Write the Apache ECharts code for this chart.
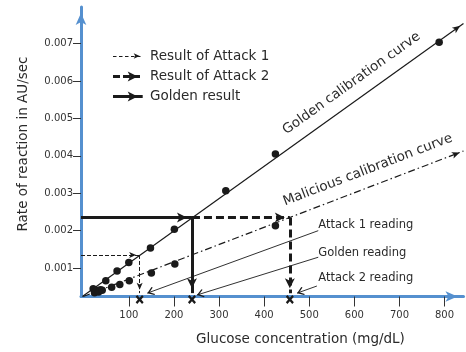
<!DOCTYPE html>
<html><head><meta charset="utf-8">
<script src="https://cdn.jsdelivr.net/npm/echarts@6/dist/echarts.min.js"></script>
<style>html,body{margin:0;padding:0;background:#fff}#c{width:466px;height:352px}</style>
</head><body><div id="c"></div>
<script>
// ---- data ----
const xTickValues = [100, 200, 300, 400, 500, 600, 700, 800];
const yTickValues = [0.001, 0.002, 0.003, 0.004, 0.005, 0.006, 0.007];
const goldenPoints = [[21, 0.00045], [28, 0.00041], [37, 0.00042], [49, 0.00066], [74, 0.00092], [100, 0.00115], [148, 0.00154], [201, 0.00204], [315, 0.00307], [425, 0.00405], [788, 0.00704]];
const maliciousPoints = [[24, 0.00034], [33, 0.00036], [41, 0.00041], [62, 0.00049], [80, 0.00056], [101, 0.00066], [150, 0.00087], [202, 0.00111], [425, 0.00213]];
const goldenCurve = [[-3, 0.00024], [842, 0.00754]];
const maliciousCurve = [[-1, 0.00024], [842, 0.00413]];
const goldenLevel = 0.00235;
const attack1Level = 0.00135;
const readingX = [124, 240, 457];            // Attack 1, Golden, Attack 2 readings (mg/dL)
const readingTipY = 0.00033;
const markerY = 0.00016;
const legendLabels = ['Result of Attack 1', 'Result of Attack 2', 'Golden result'];
const readingLabels = ['Attack 1 reading', 'Golden reading', 'Attack 2 reading'];
const readingLabelPos = [[520, 0.00214], [520, 0.00140], [520, 0.00073]];
const leaderFrom = [[520, 0.00200], [520, 0.00129], [517, 0.00052]];
const leaderTo = [[141, 0.00033], [251, 0.00028], [473, 0.00033]];
const curveLabels = ['Golden calibration curve', 'Malicious calibration curve'];
const curveLabelX = [615, 643];

// ---- styling ----
const FONT = 'DejaVu Sans';
const AXIS_BLUE = '#5590cf';
const INK = '#1a1a1a';
const TEXT = '#2a2a2a';

const chart = echarts.init(document.getElementById('c'), null, {renderer: 'canvas'});

function arrowSeries(name, segments, lineStyle, size, endSymbol) {
  return {
    type: 'line', name: name, data: [], silent: true, animation: false,
    markLine: {
      silent: true, animation: false,
      symbol: ['none', endSymbol || 'arrow'],
      symbolSize: size,
      symbolOffset: [0, [0, size[1] / 2]],
      label: {show: false},
      emphasis: {disabled: true},
      itemStyle: {color: INK, opacity: 1},
      lineStyle: Object.assign({color: INK, opacity: 1}, lineStyle),
      data: segments
    }
  };
}
function seg(a, b) { return [{coord: a}, {coord: b}]; }
function pseg(a, b) { return [{x: a[0], y: a[1]}, {x: b[0], y: b[1]}]; }

const chevron = 'path://M6,0 L12,8.6 L10.8,10 L6,3.4 L1.2,10 L0,8.6 Z';
const cross = 'path://M0,2 L2,0 L5,3 L8,0 L10,2 L7,5 L10,8 L8,10 L5,7 L2,10 L0,8 L3,5 Z';

const option = {
  animation: false,
  backgroundColor: '#fff',
  grid: {left: 81, right: 2.5, top: 7, bottom: 55.5},
  xAxis: {
    type: 'value', min: -6, max: 842,
    axisLine: {show: true, onZero: false, lineStyle: {color: AXIS_BLUE, width: 3},
      symbol: ['none', 'arrow'], symbolSize: [8, 12], symbolOffset: [0, -6]},
    axisTick: {show: true, customValues: xTickValues, length: 10, lineStyle: {color: '#333', width: 1}},
    axisLabel: {customValues: xTickValues, margin: 14, color: '#333', fontSize: 10, fontFamily: FONT},
    splitLine: {show: false}
  },
  yAxis: {
    type: 'value', min: 0.00024, max: 0.00798,
    axisLine: {show: true, onZero: false, lineStyle: {color: AXIS_BLUE, width: 3},
      symbol: ['none', 'arrow'], symbolSize: [8, 12], symbolOffset: [0, -6]},
    axisTick: {show: true, customValues: yTickValues, length: 8, lineStyle: {color: '#333', width: 1}},
    axisLabel: {customValues: yTickValues, margin: 8, color: '#333', fontSize: 10, fontFamily: FONT,
      formatter: v => v.toFixed(3)},
    splitLine: {show: false}
  },
  series: [
    arrowSeries('Golden calibration curve', [seg(goldenCurve[0], goldenCurve[1])], {width: 1.2, type: 'solid'}, [5, 8]),
    arrowSeries('Malicious calibration curve', [seg(maliciousCurve[0], maliciousCurve[1])], {width: 1.2, type: [7, 3, 1.5, 3]}, [5, 8]),
    arrowSeries('Golden result', [
      seg([-6, goldenLevel], [readingX[1], goldenLevel]),
      seg([readingX[1], goldenLevel], [readingX[1], readingTipY])
    ], {width: 3, type: 'solid'}, [7.5, 10]),
    arrowSeries('Result of Attack 2', [
      seg([readingX[1], goldenLevel], [readingX[2], goldenLevel]),
      seg([readingX[2], goldenLevel], [readingX[2], readingTipY])
    ], {width: 3, type: [8, 4]}, [7.5, 10]),
    arrowSeries('Result of Attack 1', [
      seg([-6, attack1Level], [readingX[0], attack1Level]),
      seg([readingX[0], attack1Level], [readingX[0], readingTipY])
    ], {width: 1, type: [4, 2]}, [4.5, 7]),
    arrowSeries('Readings', leaderFrom.map((p, i) => seg(p, leaderTo[i])), {width: 0.9, type: 'solid'}, [8.5, 7], chevron),
    // legend keys
    arrowSeries('key1', [pseg([113, 56], [142.7, 56])], {width: 1, type: [3.5, 2.5]}, [4, 6]),
    arrowSeries('key2', [pseg([113, 76.5], [142.7, 76.5])], {width: 3, type: [7, 3]}, [7.5, 10]),
    arrowSeries('key3', [pseg([113, 96.5], [142.7, 96.5])], {width: 3, type: 'solid'}, [7.5, 10]),
    {
      type: 'scatter', name: 'Golden points', data: goldenPoints, symbol: 'circle', symbolSize: 7.5,
      itemStyle: {color: INK, opacity: 1}, silent: true, z: 5
    },
    {
      type: 'scatter', name: 'Malicious points', data: maliciousPoints, symbol: 'circle', symbolSize: 7.5,
      itemStyle: {color: INK, opacity: 1}, silent: true, z: 5
    },
    {
      type: 'scatter', name: 'Readings marks', data: readingX.map(x => [x, markerY]), symbol: cross,
      symbolSize: [8, 9], itemStyle: {color: INK, opacity: 1}, clip: false, silent: true, z: 6
    }
  ]
};
chart.setOption(option);

// ---- text annotations, positioned through the axes ----
const px = p => chart.convertToPixel({gridIndex: 0}, p);
const graphics = [];
function txt(text, x, y, size, align, rot) {
  graphics.push({
    type: 'text', x: x, y: y, rotation: rot || 0, silent: true,
    style: {text: text, fill: TEXT, fontSize: size, fontFamily: FONT,
      textAlign: align, textVerticalAlign: 'middle', align: align, verticalAlign: 'middle'}
  });
}
legendLabels.forEach((t, i) => txt(t, 150, 56 + i * 20, 13.5, 'left'));
readingLabels.forEach((t, i) => {
  const p = px(readingLabelPos[i]);
  txt(t, p[0], p[1], 11.5, 'left');
});
[goldenCurve, maliciousCurve].forEach((c, i) => {
  const a = px(c[0]), b = px(c[1]);
  const ang = Math.atan2(a[1] - b[1], b[0] - a[0]);
  const t = (curveLabelX[i] - c[0][0]) / (c[1][0] - c[0][0]);
  const onLine = px([curveLabelX[i], c[0][1] + t * (c[1][1] - c[0][1])]);
  const off = 16.5;
  txt(curveLabels[i], onLine[0] - off * Math.sin(ang), onLine[1] - off * Math.cos(ang), 13.5, 'center', ang);
});
txt('Glucose concentration (mg/dL)', 300.5, 339, 13.5, 'center');
txt('Rate of reaction in AU/sec', 23, 144, 13.5, 'center', Math.PI / 2);
chart.setOption({graphic: graphics});
</script></body></html>
